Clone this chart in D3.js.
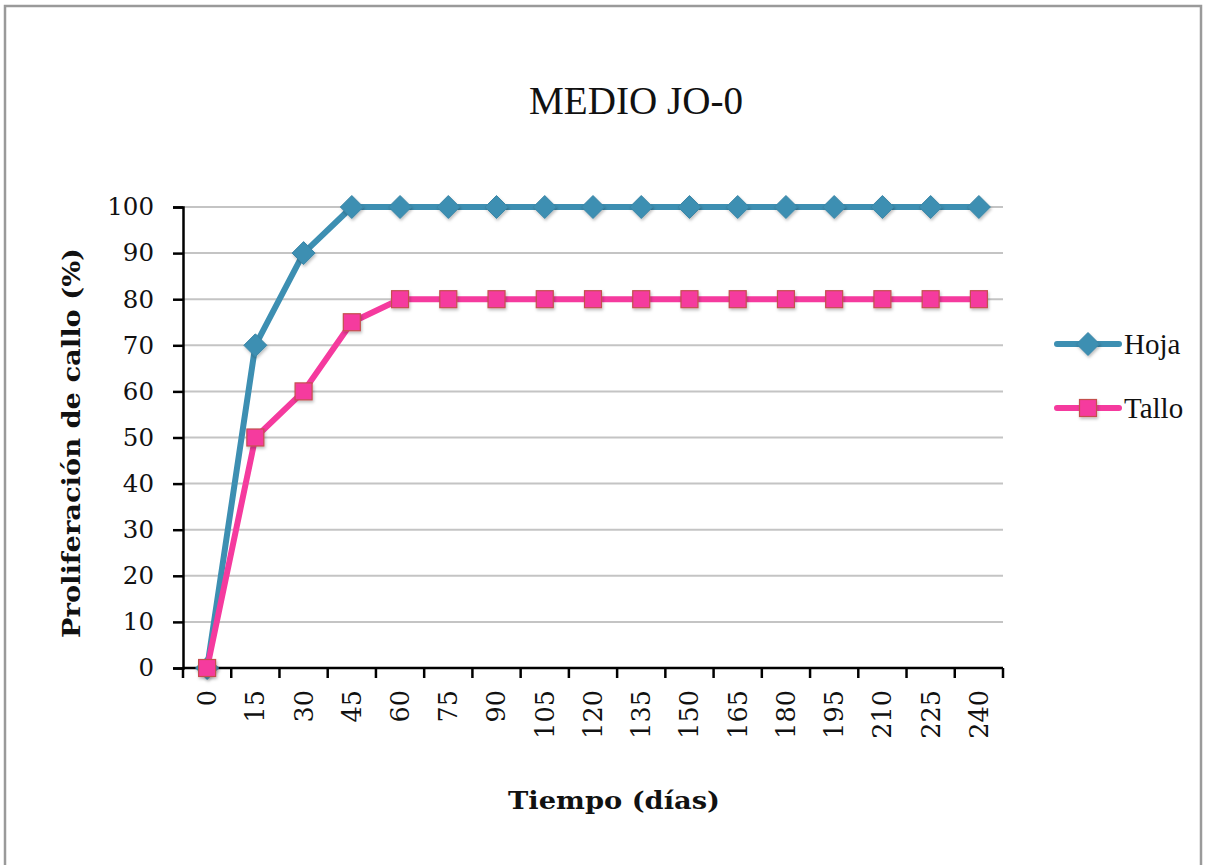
<!DOCTYPE html>
<html>
<head>
<meta charset="utf-8">
<script src="https://cdn.jsdelivr.net/npm/d3@7/dist/d3.min.js"></script>
<style>
  html, body { margin: 0; padding: 0; background: #fff; }
  svg { display: block; }
</style>
</head>
<body>
<svg id="chart" width="1205" height="865"></svg>
<script>
// Days of culture (category axis)
const dias = ["0","15","30","45","60","75","90","105","120","135","150","165","180","195","210","225","240"];
// Callus proliferation (%) per explant type
const hoja  = [0,70,90,100,100,100,100,100,100,100,100,100,100,100,100,100,100];
const tallo = [0,50,60,75,80,80,80,80,80,80,80,80,80,80,80,80,80];
const yTicks = [0,10,20,30,40,50,60,70,80,90,100];

const series = [
  { name: "Hoja",  values: hoja,  color: "#3d8fb2", marker: "diamond" },
  { name: "Tallo", values: tallo, color: "#f53a9e", marker: "square" }
];

const svg = d3.select("#chart");
const plot = { left: 183, right: 1003, top: 207, bottom: 668 };

// Outer frame
svg.append("rect")
  .attr("x", 5).attr("y", 6).attr("width", 1196).attr("height", 870)
  .attr("fill", "#fff").attr("stroke", "#9a9a9a").attr("stroke-width", 2.5);

const x = d3.scaleBand().domain(dias).range([plot.left, plot.right]).padding(0);
const y = d3.scaleLinear().domain([0, 100]).range([plot.bottom, plot.top]);

// Horizontal gridlines
svg.append("g")
  .selectAll("line")
  .data(yTicks.filter(d => d > 0))
  .join("line")
  .attr("x1", plot.left).attr("x2", plot.right)
  .attr("y1", d => y(d)).attr("y2", d => y(d))
  .attr("stroke", "#c4c4c4").attr("stroke-width", 2);

// Y axis
const yAxis = svg.append("g")
  .attr("transform", `translate(${plot.left},0)`)
  .call(d3.axisLeft(y).tickValues(yTicks).tickSize(10).tickPadding(19));
yAxis.select(".domain").attr("stroke", "#000").attr("stroke-width", 2.5);
yAxis.selectAll(".tick line").attr("stroke", "#000").attr("stroke-width", 2.5);
yAxis.selectAll("text")
  .attr("font-family", "'DejaVu Serif', serif").attr("font-size", 24.5).attr("fill", "#111");

// X axis: ticks at category boundaries, labels at category centres
const xAxisG = svg.append("g").attr("transform", `translate(0,${plot.bottom})`);
xAxisG.append("line")
  .attr("x1", plot.left).attr("x2", plot.right)
  .attr("stroke", "#000").attr("stroke-width", 2.5);
const bounds = dias.map(d => x(d)).concat([x(dias[dias.length - 1]) + x.bandwidth()]);
xAxisG.selectAll("line.tk")
  .data(bounds)
  .join("line").attr("class", "tk")
  .attr("x1", d => d).attr("x2", d => d)
  .attr("y1", 0).attr("y2", 10)
  .attr("stroke", "#000").attr("stroke-width", 2.5);
xAxisG.selectAll("text")
  .data(dias)
  .join("text")
  .attr("transform", d => `translate(${x(d) + x.bandwidth() / 2},22) rotate(-90)`)
  .attr("text-anchor", "end")
  .attr("dy", "0.35em")
  .attr("font-family", "'DejaVu Serif', serif").attr("font-size", 25.5).attr("fill", "#111")
  .text(d => d);

// Lines and markers
const cx = d => x(d) + x.bandwidth() / 2;
const line = d3.line().x((v, i) => cx(dias[i])).y(v => y(v));

const shadow = svg.append("defs").append("filter").attr("id", "sh")
  .attr("x", "-50%").attr("y", "-50%").attr("width", "200%").attr("height", "200%");
shadow.append("feDropShadow").attr("dx", 1).attr("dy", 2).attr("stdDeviation", 1.5)
  .attr("flood-color", "#000").attr("flood-opacity", 0.25);

function drawMarker(g, type, px, py, color) {
  if (type === "diamond") {
    const s = 11.5;
    g.append("path")
      .attr("d", `M${px},${py - s}L${px + s},${py}L${px},${py + s}L${px - s},${py}Z`)
      .attr("fill", color).attr("stroke", "#3a85a6").attr("stroke-width", 1)
      .attr("filter", "url(#sh)");
  } else {
    const s = 8.5;
    g.append("rect")
      .attr("x", px - s).attr("y", py - s).attr("width", 2 * s).attr("height", 2 * s)
      .attr("fill", color).attr("stroke", "#c4504e").attr("stroke-width", 1.2)
      .attr("filter", "url(#sh)");
  }
}

// Draw Hoja first, Tallo on top
series.forEach(s => {
  const g = svg.append("g");
  g.append("path")
    .attr("d", line(s.values))
    .attr("fill", "none").attr("stroke", s.color).attr("stroke-width", 6)
    .attr("stroke-linejoin", "round");
  s.values.forEach((v, i) => drawMarker(g, s.marker, cx(dias[i]), y(v), s.color));
});

// Legend
const legY = [344, 408];
series.forEach((s, i) => {
  const g = svg.append("g");
  g.append("line")
    .attr("x1", 1057).attr("x2", 1119).attr("y1", legY[i]).attr("y2", legY[i])
    .attr("stroke", s.color).attr("stroke-width", 6).attr("stroke-linecap", "round");
  drawMarker(g, s.marker, 1088, legY[i], s.color);
  g.append("text")
    .attr("x", 1124).attr("y", legY[i]).attr("dy", "0.35em")
    .attr("font-family", "'Liberation Serif', serif").attr("font-size", 29).attr("fill", "#111")
    .text(s.name);
});

// Title
svg.append("text")
  .attr("x", 636).attr("y", 114)
  .attr("text-anchor", "middle")
  .attr("font-family", "'Liberation Serif', serif").attr("font-size", 41).attr("fill", "#111")
  .attr("textLength", 214).attr("lengthAdjust", "spacingAndGlyphs")
  .text("MEDIO JO-0");

// Axis titles
svg.append("text")
  .attr("x", 614).attr("y", 809)
  .attr("text-anchor", "middle")
  .attr("font-family", "'DejaVu Serif', serif").attr("font-weight", "bold")
  .attr("font-size", 25).attr("fill", "#111")
  .attr("textLength", 212).attr("lengthAdjust", "spacingAndGlyphs")
  .text("Tiempo (días)");

svg.append("text")
  .attr("transform", "translate(80,443) rotate(-90)")
  .attr("text-anchor", "middle")
  .attr("font-family", "'DejaVu Serif', serif").attr("font-weight", "bold")
  .attr("font-size", 25).attr("fill", "#111")
  .attr("textLength", 390).attr("lengthAdjust", "spacingAndGlyphs")
  .text("Proliferación de callo (%)");
</script>
</body>
</html>
